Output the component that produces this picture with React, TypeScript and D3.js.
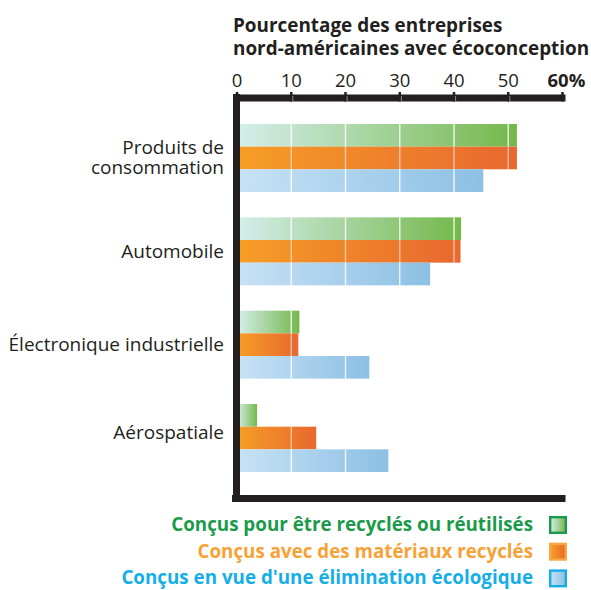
import React from "react";
import * as d3 from "d3";

const categories = ["Produits de consommation", "Automobile", "Électronique industrielle", "Aérospatiale"];
const categoryLines = [["Produits de", "consommation"], ["Automobile"], ["Électronique industrielle"], ["Aérospatiale"]];
const seriesNames = [
  "Conçus pour être recyclés ou réutilisés",
  "Conçus avec des matériaux recyclés",
  "Conçus en vue d'une élimination écologique",
];
const recycledReused = [51.6, 41.3, 11.5, 3.7];
const recycledMaterials = [51.6, 41.2, 11.3, 14.6];
const ecoDisposal = [45.4, 35.6, 24.4, 27.9];
const tickValues = [0, 10, 20, 30, 40, 50, 60];
const titleLines = ["Pourcentage des entreprises", "nord-américaines avec écoconception"];

const seriesValues = [recycledReused, recycledMaterials, ecoDisposal];
const gradStops = [
  ["#d5eeec", "#74b84a"],
  ["#f69e26", "#e8682f"],
  ["#c8e2f5", "#8cc0e4"],
];
const legendText = ["#1c9a4b", "#f7a236", "#16aee6"];
const legendBorder = ["#1c9a4b", "#f9a640", "#16aee6"];

const FONT = "'Open Sans', 'Noto Sans', sans-serif";
const INK = "#231f20";

export default function App() {
  const W = 591, H = 590;
  const x = d3.scaleLinear().domain([0, 60]).range([237, 562.5]);
  const yGroup = d3.scaleBand<string>().domain(categories).range([124, 472]).paddingInner(0.272).paddingOuter(0);
  const ySeries = d3.scaleBand<number>().domain([0, 1, 2]).range([0, yGroup.bandwidth()]);
  const gridTicks = [10, 20, 30, 40, 50];

  return (
    <svg width={W} height={H} style={{ position: "absolute", left: 0, top: 0 }} fontFamily={FONT}>
      <defs>
        {gradStops.map((g, i) => (
          <linearGradient key={i} id={`g${i}`} x1="0" x2="1" y1="0" y2="0">
            <stop offset="0" stopColor={g[0]} />
            <stop offset="1" stopColor={g[1]} />
          </linearGradient>
        ))}
      </defs>

      {/* title */}
      <text x={233} y={31.5} fontSize={18.9} fontWeight={700} fill={INK}>
        {titleLines.map((t, i) => (
          <tspan key={i} x={233} dy={i === 0 ? 0 : 23.5}>{t}</tspan>
        ))}
      </text>

      {/* tick labels */}
      {tickValues.map((v) => (
        <text key={v} x={v === 60 ? x(v) - 15 : x(v)} y={86.5} fontSize={18.5}
          fontWeight={v === 60 ? 700 : 400} fill={INK}
          textAnchor={v === 60 ? "start" : "middle"}>
          {v === 60 ? "60%" : String(v)}
        </text>
      ))}

      {/* bars */}
      {categories.map((c, ci) => (
        <g key={c} transform={`translate(0,${yGroup(c)})`}>
          {seriesValues.map((vals, si) => {
            const v = vals[ci];
            const y0 = ySeries(si)!;
            const h = ySeries.bandwidth();
            return (
              <g key={si}>
                <rect x={x(0)} y={y0} width={x(v) - x(0)} height={h} fill={`url(#g${si})`} />
                {gridTicks.filter((t) => t < v).map((t) => (
                  <line key={t} x1={x(t)} x2={x(t)} y1={y0} y2={y0 + h} stroke="#fff" strokeWidth={1.4}
                    strokeOpacity={si === 1 ? 0.55 : 0.85} />
                ))}
              </g>
            );
          })}
        </g>
      ))}

      {/* category labels */}
      {categories.map((c, ci) => {
        const lines = categoryLines[ci];
        const cy = yGroup(c)! + yGroup.bandwidth() / 2;
        const start = cy + 6.5 - ((lines.length - 1) * 20) / 2 - (ci === 3 ? 6 : 0);
        return (
          <text key={c} x={224} y={start} fontSize={19} textAnchor="end" fill={INK}>
            {lines.map((l, li) => (
              <tspan key={li} x={224} dy={li === 0 ? 0 : 20}>{l}</tspan>
            ))}
          </text>
        );
      })}

      {/* axes frame */}
      <rect x={233} y={94} width={7} height={408} fill={INK} />
      <rect x={233} y={94.5} width={x(60) - 233 + 3} height={7} fill={INK} />
      <rect x={232} y={495} width={x(60) - 232 + 3} height={7} fill={INK} />
      {tickValues.map((v) => (
        <g key={"t" + v}>
          <line x1={x(v)} x2={x(v)} y1={92} y2={101.5} stroke={INK} strokeWidth={2.5} />
          {v > 0 && v < 60 && (
            <line x1={x(v) + 1.6} x2={x(v) + 1.6} y1={96} y2={101.5} stroke="#fff" strokeWidth={0.8} strokeOpacity={0.6} />
          )}
        </g>
      ))}

      {/* legend */}
      {seriesNames.map((n, i) => {
        const yb = 516 + i * 26.7;
        return (
          <g key={n}>
            <text x={533} y={yb + 15} fontSize={18.8} fontWeight={700} textAnchor="end" fill={legendText[i]}>{n}</text>
            <rect x={550.2} y={yb + 1.2} width={15.6} height={15.6} fill={`url(#g${i})`} stroke={legendBorder[i]} strokeWidth={2.4} />
          </g>
        );
      })}
    </svg>
  );
}
